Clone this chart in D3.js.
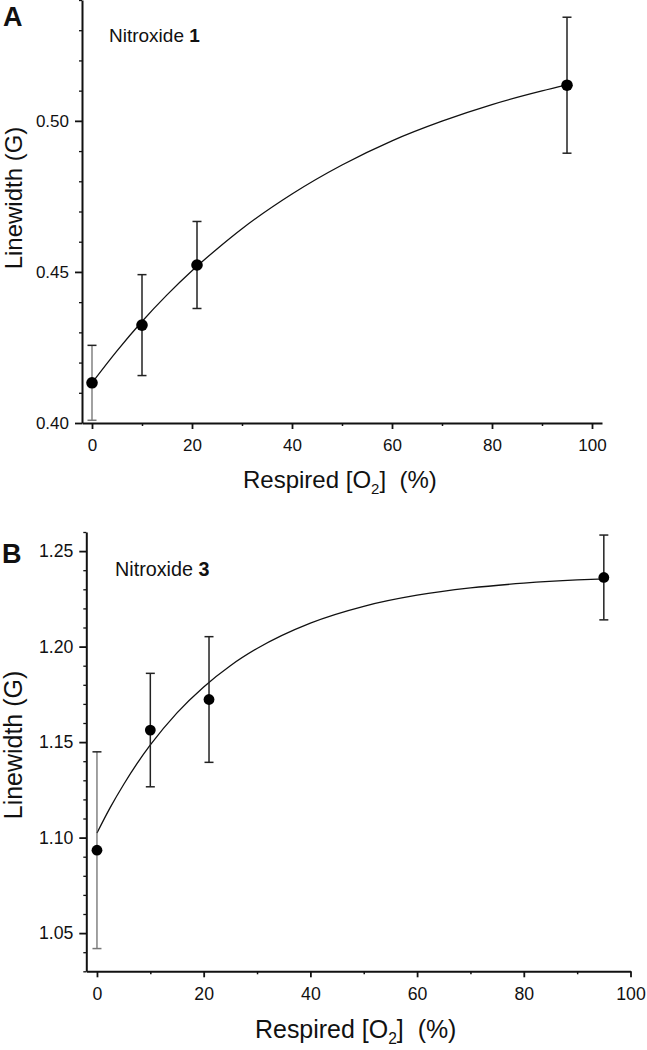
<!DOCTYPE html>
<html>
<head>
<meta charset="utf-8">
<script src="https://cdn.jsdelivr.net/npm/d3@7/dist/d3.min.js"></script>
<style>
  html, body { margin: 0; padding: 0; background: #fff; }
  svg { display: block; }
  text { font-family: "Liberation Sans", Arial, Helvetica, sans-serif; fill: #111; }
</style>
</head>
<body>
<svg id="chart" width="647" height="1050"></svg>
<script>
// ---------- Data ----------
const o2Levels = [0, 10, 21, 95];
const xTickValues = [0, 20, 40, 60, 80, 100];
const xMinorTickValues = [10, 30, 50, 70, 90];

// Panel A: Nitroxide 1
const nitroxide1Linewidth = [0.4133, 0.4324, 0.4523, 0.5118];
const nitroxide1Error = [0.0124, 0.0167, 0.0144, 0.0225];
const nitroxide1FitX = [0, 5, 10, 15, 20, 25, 30, 40, 50, 60, 70, 80, 90, 95];
const nitroxide1FitY = [0.4133, 0.4239, 0.4336, 0.4424, 0.4504, 0.4576, 0.4643,
                        0.4758, 0.4854, 0.4934, 0.4999, 0.5054, 0.5099, 0.5119];
const yTicksA = [0.40, 0.45, 0.50];

// Panel B: Nitroxide 3
const nitroxide3Linewidth = [1.0934, 1.1563, 1.1723, 1.2362];
const nitroxide3Error = [0.0515, 0.0297, 0.0329, 0.0222];
const nitroxide3FitX = [0, 2.5, 5, 7.5, 10, 15, 20, 25, 30, 40, 50, 60, 70, 80, 90, 95];
const nitroxide3FitY = [1.1024, 1.1158, 1.1278, 1.1387, 1.1485, 1.1653, 1.1789, 1.1900,
                        1.1990, 1.2123, 1.2211, 1.2269, 1.2307, 1.2332, 1.2349, 1.2355];
const yTicksB = [1.05, 1.10, 1.15, 1.20, 1.25];

// ---------- Drawing ----------
const svg = d3.select("#chart");

function minorRange(lo, hi, step, majors) {
  const out = [];
  const n = Math.round((hi - lo) / step);
  for (let i = 0; i <= n; i++) {
    const v = +(lo + i * step).toFixed(4);
    if (!majors.some(m => Math.abs(m - v) < 1e-6)) out.push(v);
  }
  return out;
}

function drawPanel(cfg) {
  const g = svg.append("g");
  const x = d3.scaleLinear().domain(cfg.xDomain).range(cfg.xRange);
  const y = d3.scaleLinear().domain(cfg.yDomain).range(cfg.yRange);
  const fs = cfg.scale;

  // x axis minor
  g.append("g")
    .attr("transform", `translate(0,${cfg.yRange[0]})`)
    .call(d3.axisBottom(x).tickValues(xMinorTickValues).tickSize(3).tickFormat(""))
    .call(a => a.select(".domain").remove())
    .call(a => a.selectAll("line").attr("stroke", "#111").attr("stroke-width", 1.5));
  // x axis major
  g.append("g")
    .attr("transform", `translate(0,${cfg.yRange[0]})`)
    .call(d3.axisBottom(x).tickValues(xTickValues).tickSize(6).tickSizeOuter(0).tickPadding(10 * fs)
      .tickFormat(d3.format("d")))
    .call(a => a.select(".domain").attr("stroke", "#111").attr("stroke-width", 2))
    .call(a => a.selectAll("line").attr("stroke", "#111").attr("stroke-width", 1.8))
    .call(a => a.selectAll("text").attr("font-size", 17 * fs).attr("fill", "#111")
      .style("font-family", '"Liberation Sans", Arial, sans-serif'));

  // y axis minor
  const yMinor = minorRange(cfg.yDomain[0], cfg.yDomain[1], 0.01, cfg.yTicks);
  g.append("g")
    .attr("transform", `translate(${cfg.xRange[0]},0)`)
    .call(d3.axisLeft(y).tickValues(yMinor).tickSize(3).tickFormat(""))
    .call(a => a.select(".domain").remove())
    .call(a => a.selectAll("line").attr("stroke", "#111").attr("stroke-width", 1.3));
  // y axis major
  g.append("g")
    .attr("transform", `translate(${cfg.xRange[0]},0)`)
    .call(d3.axisLeft(y).tickValues(cfg.yTicks).tickSize(7).tickSizeOuter(0).tickPadding(6)
      .tickFormat(d3.format(".2f")))
    .call(a => a.select(".domain").attr("stroke", "#111").attr("stroke-width", 2))
    .call(a => a.selectAll("line").attr("stroke", "#111").attr("stroke-width", 1.8))
    .call(a => a.selectAll("text").attr("font-size", 17 * fs).attr("fill", "#111")
      .style("font-family", '"Liberation Sans", Arial, sans-serif'));

  // fit curve
  const fitData = cfg.fitX.map((d, i) => [d, cfg.fitY[i]]);
  g.append("path")
    .datum(fitData)
    .attr("fill", "none")
    .attr("stroke", "#111")
    .attr("stroke-width", 1.3)
    .attr("d", d3.line().x(d => x(d[0])).y(d => y(d[1])).curve(d3.curveMonotoneX));

  // error bars and points
  const pts = o2Levels.map((d, i) => ({ x: d, y: cfg.values[i], e: cfg.errors[i] }));
  const eb = g.append("g").selectAll("g").data(pts).join("g");
  const cap = 4.5;
  eb.append("line")
    .attr("x1", d => x(d.x)).attr("x2", d => x(d.x))
    .attr("y1", d => y(d.y - d.e)).attr("y2", d => y(d.y + d.e))
    .attr("stroke", d => d.x === 0 ? "#555" : "#222")
    .attr("stroke-width", d => d.x === 0 ? 1.1 : 1.5);
  eb.append("line")
    .attr("x1", d => x(d.x) - cap).attr("x2", d => x(d.x) + cap)
    .attr("y1", d => y(d.y + d.e)).attr("y2", d => y(d.y + d.e))
    .attr("stroke", "#222").attr("stroke-width", 1.5);
  eb.append("line")
    .attr("x1", d => x(d.x) - cap).attr("x2", d => x(d.x) + cap)
    .attr("y1", d => y(d.y - d.e)).attr("y2", d => y(d.y - d.e))
    .attr("stroke", d => d.x === 0 ? "#777" : "#222").attr("stroke-width", 1.5);
  g.append("g").selectAll("circle").data(pts).join("circle")
    .attr("cx", d => x(d.x)).attr("cy", d => y(d.y))
    .attr("r", cfg.r).attr("fill", "#000");

  // panel letter
  g.append("text")
    .attr("x", cfg.letterPos[0]).attr("y", cfg.letterPos[1])
    .attr("font-size", 27).attr("font-weight", "bold")
    .text(cfg.letter);

  // compound label
  const lab = g.append("text")
    .attr("x", cfg.labelPos[0]).attr("y", cfg.labelPos[1])
    .attr("font-size", 19 * fs);
  lab.append("tspan").text("Nitroxide ");
  lab.append("tspan").attr("font-weight", "bold").text(cfg.compound);

  // x label
  const xl = g.append("text")
    .attr("x", cfg.xLabelPos[0]).attr("y", cfg.xLabelPos[1])
    .attr("font-size", 24 * fs)
    .style("white-space", "pre");
  xl.append("tspan").text("Respired [O");
  xl.append("tspan").attr("font-size", 15 * fs).attr("dy", 6 * fs).text("2");
  xl.append("tspan").attr("dy", -6 * fs).text("]  (%)");

  // y label
  g.append("text")
    .attr("transform", `translate(${cfg.yLabelPos[0]},${cfg.yLabelPos[1]}) rotate(-90)`)
    .attr("text-anchor", "middle")
    .attr("font-size", 24 * fs)
    .text("Linewidth (G)");
}

drawPanel({
  xDomain: [-2, 102], xRange: [82, 602],
  yDomain: [0.40, 0.54], yRange: [423, 0],
  yTicks: yTicksA,
  values: nitroxide1Linewidth, errors: nitroxide1Error,
  fitX: nitroxide1FitX, fitY: nitroxide1FitY,
  r: 5.8, scale: 1,
  letter: "A", letterPos: [3, 26],
  compound: "1", labelPos: [109, 42],
  xLabelPos: [243, 488],
  yLabelPos: [22, 198]
});

drawPanel({
  xDomain: [-2, 100], xRange: [86.3, 630.5],
  yDomain: [1.03, 1.26], yRange: [971.3, 532],
  yTicks: yTicksB,
  values: nitroxide3Linewidth, errors: nitroxide3Error,
  fitX: nitroxide3FitX, fitY: nitroxide3FitY,
  r: 5.4, scale: 1.04,
  letter: "B", letterPos: [2, 563],
  compound: "3", labelPos: [115, 576],
  xLabelPos: [255, 1038],
  yLabelPos: [22, 745]
});
</script>
</body>
</html>
